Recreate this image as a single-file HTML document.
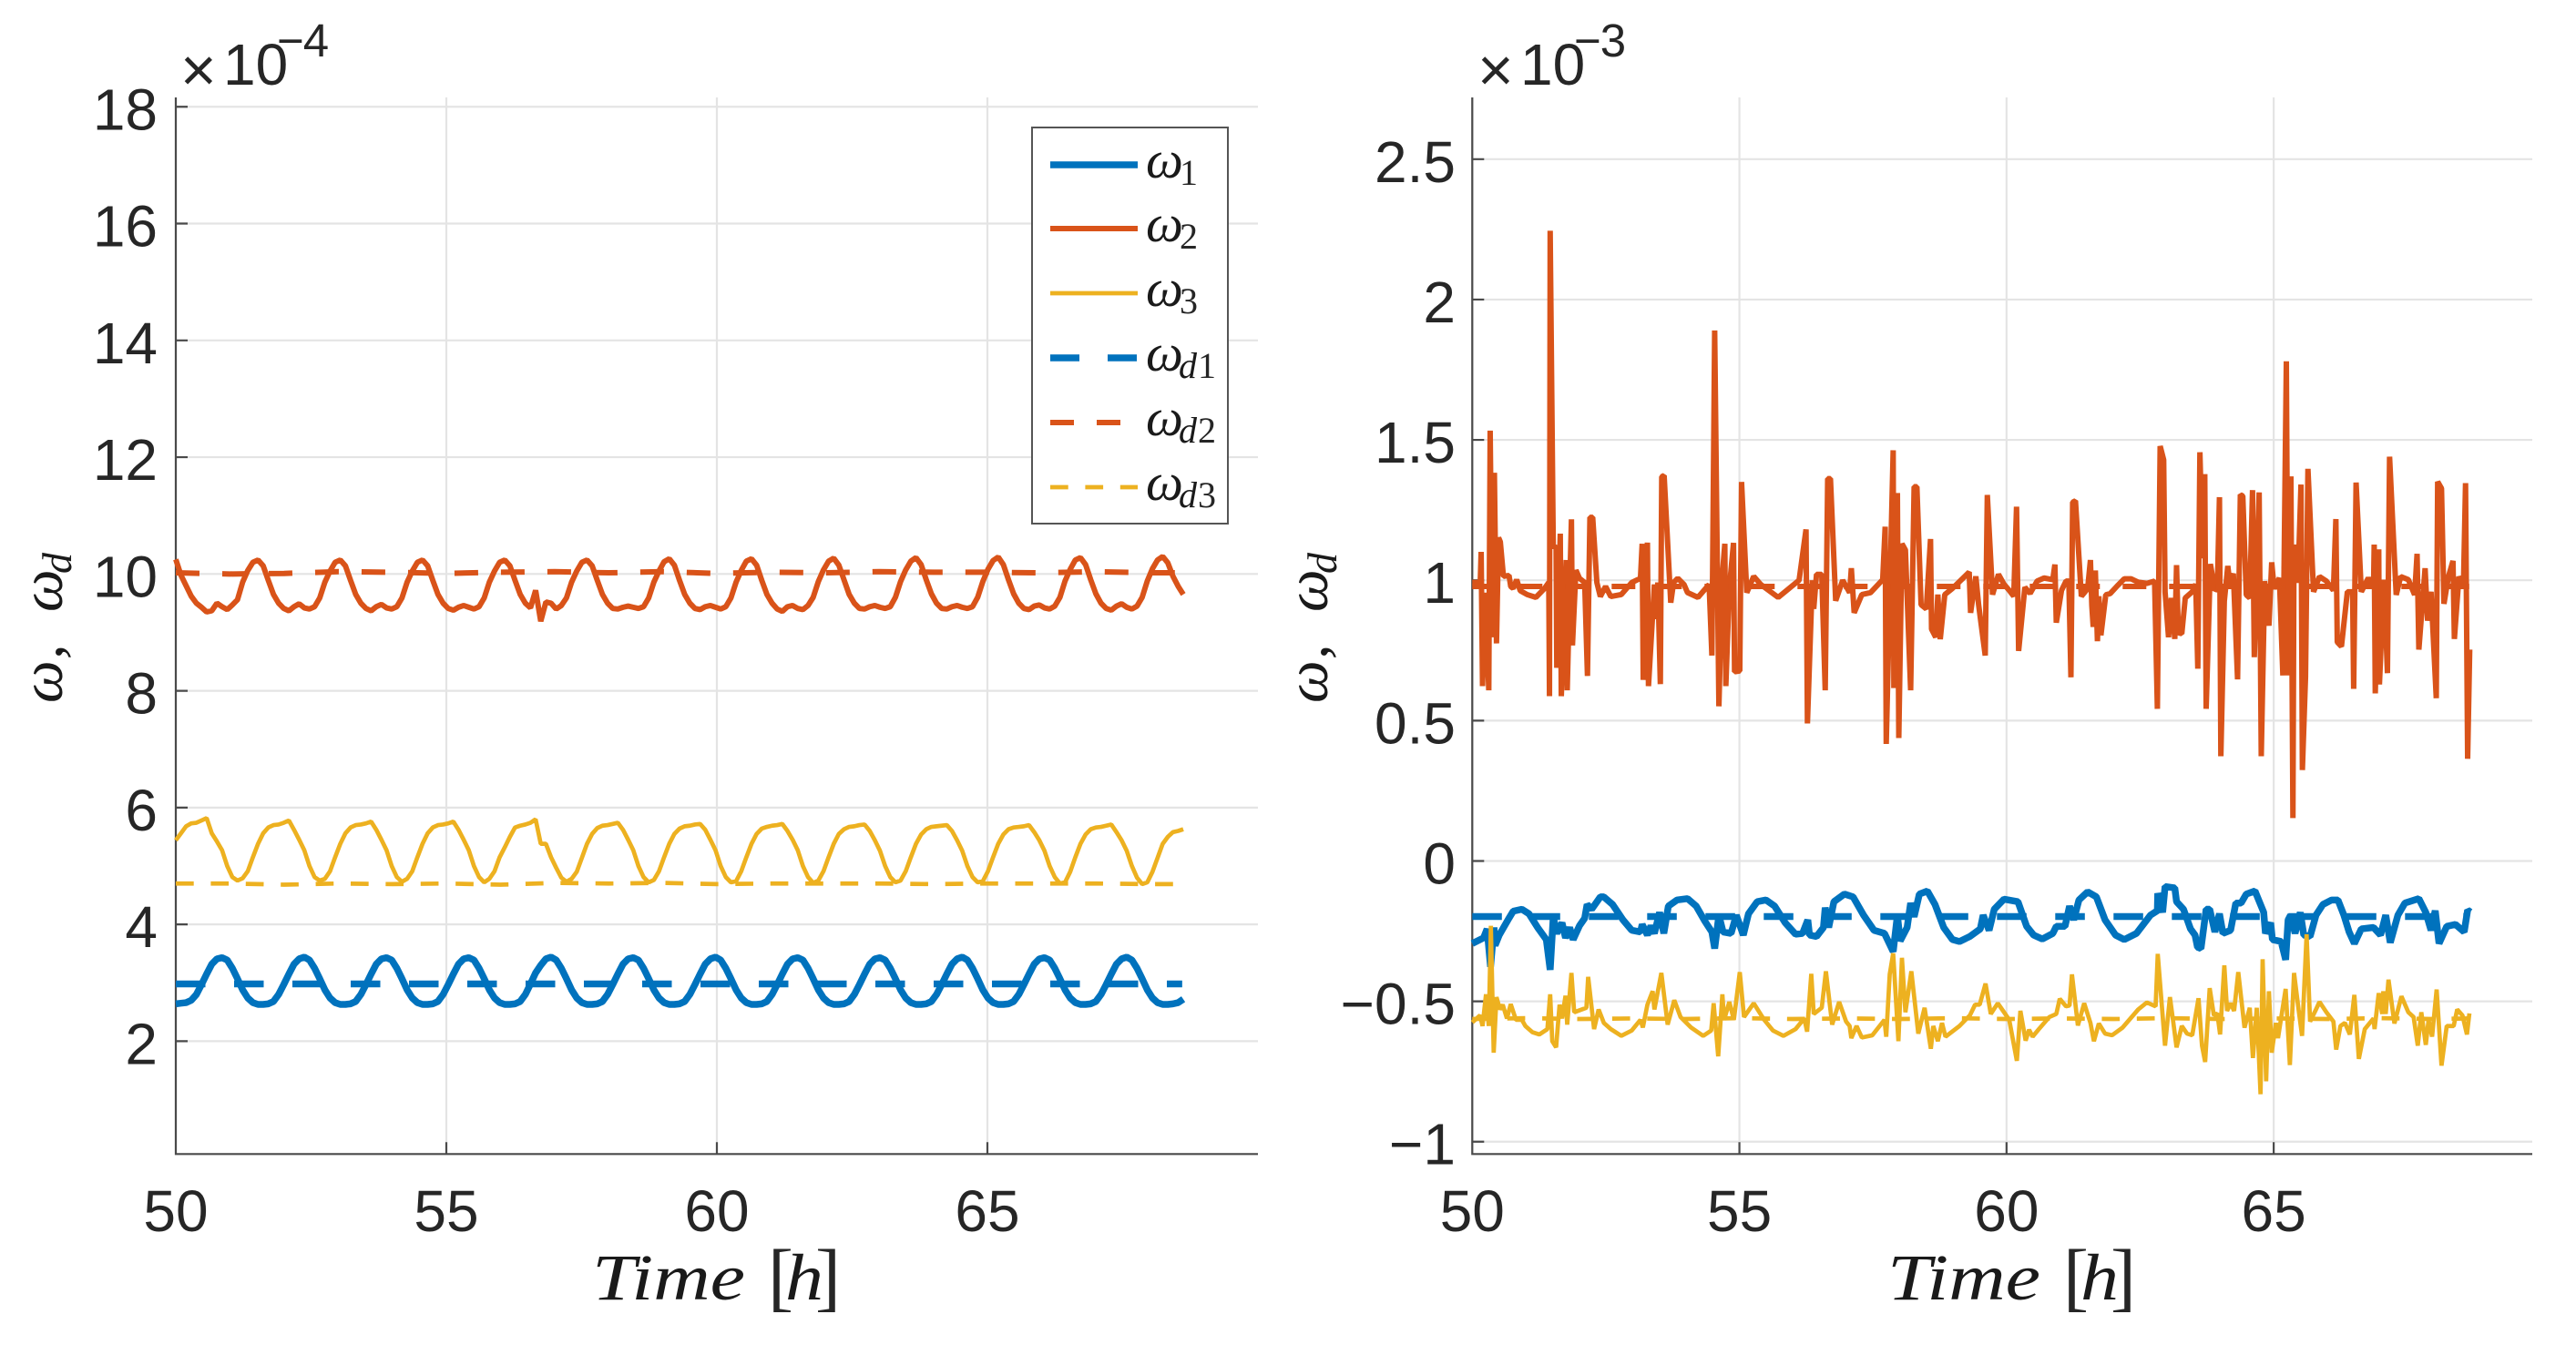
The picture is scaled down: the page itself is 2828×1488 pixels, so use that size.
<!DOCTYPE html>
<html lang="en">
<head>
<meta charset="utf-8">
<title>Angular velocity tracking charts</title>
<style>
html,body{margin:0;padding:0;background:#fff;width:2828px;height:1488px;overflow:hidden}
svg{display:block}
.tick{font-family:"Liberation Sans",sans-serif;font-size:64px;fill:#262626}
.math{font-family:"Liberation Serif",serif;font-style:italic;fill:#1a1a1a}
.up{font-family:"Liberation Serif",serif;fill:#262626}
.exp{font-family:"Liberation Sans",sans-serif;fill:#262626}
</style>
</head>
<body>
<svg id="figure" xmlns="http://www.w3.org/2000/svg" width="2828" height="1488" viewBox="0 0 2828 1488">
<rect x="0" y="0" width="2828" height="1488" fill="#fff"/>
<g id="left-plot"></g>
<g id="right-plot"></g>

<g>
<text class="exp" x="198" y="100" font-size="68">×</text>
<text class="exp" x="245" y="93" font-size="64">10</text>
<text class="exp" x="304" y="62" font-size="51" letter-spacing="-1">−4</text>
</g>
<g>
<text class="exp" x="1622" y="100" font-size="68">×</text>
<text class="exp" x="1669" y="93" font-size="64">10</text>
<text class="exp" x="1728" y="62" font-size="51" letter-spacing="-1">−3</text>
</g>

<g>
<text class="math" x="650" y="1427" font-size="72" textLength="168" lengthAdjust="spacingAndGlyphs">Time</text>
<text class="up" x="843" y="1430" font-size="84">[</text>
<text class="math" x="862" y="1427" font-size="72" textLength="42" lengthAdjust="spacingAndGlyphs">h</text>
<text class="up" x="895" y="1430" font-size="84">]</text>
</g>
<g>
<text class="math" x="2072" y="1427" font-size="72" textLength="168" lengthAdjust="spacingAndGlyphs">Time</text>
<text class="up" x="2265" y="1430" font-size="84">[</text>
<text class="math" x="2284" y="1427" font-size="72" textLength="42" lengthAdjust="spacingAndGlyphs">h</text>
<text class="up" x="2317" y="1430" font-size="84">]</text>
</g>

<g transform="translate(68,772) rotate(-90)">
<text class="math" x="0" y="0" font-size="66">ω</text>
<text class="math" x="48" y="0" font-size="66">,</text>
<text class="math" x="100" y="0" font-size="66">ω</text>
<text class="math" x="142" y="10" font-size="46">d</text>
</g>
<g transform="translate(1457,772) rotate(-90)">
<text class="math" x="0" y="0" font-size="66">ω</text>
<text class="math" x="48" y="0" font-size="66">,</text>
<text class="math" x="100" y="0" font-size="66">ω</text>
<text class="math" x="142" y="10" font-size="46">d</text>
</g>

<g>
<rect x="1133" y="140" width="215" height="435" fill="#fff" stroke="#555" stroke-width="2"/>
<g>
<line x1="1153" x2="1249" y1="181" y2="181" stroke="#0072BD" stroke-width="7.5"/>
<text class="math" x="1258" y="195" font-size="58">ω</text>
<text class="up" x="1295" y="203" font-size="40">1</text>
</g>
<g>
<line x1="1153" x2="1249" y1="251" y2="251" stroke="#D95319" stroke-width="6"/>
<text class="math" x="1258" y="265" font-size="58">ω</text>
<text class="up" x="1295" y="273" font-size="40">2</text>
</g>
<g>
<line x1="1153" x2="1249" y1="322" y2="322" stroke="#EDB120" stroke-width="4.7"/>
<text class="math" x="1258" y="336" font-size="58">ω</text>
<text class="up" x="1295" y="344" font-size="40">3</text>
</g>
<g>
<line x1="1153" x2="1249" y1="393" y2="393" stroke="#0072BD" stroke-width="7.5" stroke-dasharray="32 31"/>
<text class="math" x="1258" y="407" font-size="58">ω</text>
<text class="math" x="1294" y="415" font-size="40">d</text>
<text class="up" x="1315" y="415" font-size="40">1</text>
</g>
<g>
<line x1="1153" x2="1249" y1="464" y2="464" stroke="#D95319" stroke-width="6" stroke-dasharray="26 25"/>
<text class="math" x="1258" y="478" font-size="58">ω</text>
<text class="math" x="1294" y="486" font-size="40">d</text>
<text class="up" x="1315" y="486" font-size="40">2</text>
</g>
<g>
<line x1="1153" x2="1249" y1="535" y2="535" stroke="#EDB120" stroke-width="4.7" stroke-dasharray="19.7 18.7"/>
<text class="math" x="1258" y="549" font-size="58">ω</text>
<text class="math" x="1294" y="557" font-size="40">d</text>
<text class="up" x="1315" y="557" font-size="40">3</text>
</g>
</g>
</svg>

<script>
var xTicksLeft = [50, 55, 60, 65];
var yTicksLeft = [2, 4, 6, 8, 10, 12, 14, 16, 18];
var yTickLabelsLeft = ["2", "4", "6", "8", "10", "12", "14", "16", "18"];
var xTicksRight = [50, 55, 60, 65];
var yTicksRight = [-1, -0.5, 0, 0.5, 1, 1.5, 2, 2.5];
var yTickLabelsRight = ["−1", "−0.5", "0", "0.5", "1", "1.5", "2", "2.5"];

var leftTime = [
50,50.095,50.19,50.285,50.38,50.475,50.57,50.665,50.76,50.855,50.95,51.045,51.14,51.235,51.33,51.425,
51.52,51.615,51.71,51.805,51.9,51.995,52.09,52.185,52.28,52.375,52.47,52.565,52.66,52.755,52.85,52.945,
53.04,53.135,53.23,53.325,53.42,53.515,53.61,53.705,53.8,53.895,53.99,54.085,54.18,54.275,54.37,54.465,
54.56,54.655,54.75,54.845,54.94,55.035,55.13,55.225,55.32,55.415,55.51,55.605,55.7,55.795,55.89,55.985,
56.08,56.175,56.27,56.365,56.46,56.555,56.65,56.745,56.84,56.935,57.03,57.125,57.22,57.315,57.41,57.505,
57.6,57.695,57.79,57.885,57.98,58.075,58.17,58.265,58.36,58.455,58.55,58.645,58.74,58.835,58.93,59.025,
59.12,59.215,59.31,59.405,59.5,59.595,59.69,59.785,59.88,59.975,60.07,60.165,60.26,60.355,60.45,60.545,
60.64,60.735,60.83,60.925,61.02,61.115,61.21,61.305,61.4,61.495,61.59,61.685,61.78,61.875,61.97,62.065,
62.16,62.255,62.35,62.445,62.54,62.635,62.73,62.825,62.92,63.015,63.11,63.205,63.3,63.395,63.49,63.585,
63.68,63.775,63.87,63.965,64.06,64.155,64.25,64.345,64.44,64.535,64.63,64.725,64.82,64.915,65.01,65.105,
65.2,65.295,65.39,65.485,65.58,65.675,65.77,65.865,65.96,66.055,66.15,66.245,66.34,66.435,66.53,66.625,
66.72,66.815,66.91,67.005,67.1,67.195,67.29,67.385,67.48,67.575,67.67,67.765,67.86,67.955,68.05,68.145,
68.24,68.335,68.43,68.525,68.62];

var leftOmega1 = [
2.64,2.65,2.66,2.70,2.80,2.97,3.15,3.32,3.41,3.43,3.39,3.25,3.07,2.88,2.74,2.66,
2.63,2.63,2.64,2.68,2.80,2.97,3.15,3.32,3.41,3.44,3.39,3.25,3.07,2.88,2.74,2.66,
2.63,2.63,2.64,2.68,2.80,2.97,3.15,3.32,3.41,3.43,3.39,3.25,3.07,2.88,2.74,2.66,
2.63,2.63,2.64,2.68,2.80,2.97,3.15,3.32,3.41,3.43,3.39,3.25,3.07,2.88,2.74,2.66,
2.63,2.63,2.64,2.68,2.80,2.98,3.17,3.30,3.41,3.44,3.39,3.25,3.07,2.88,2.74,2.66,
2.63,2.63,2.64,2.68,2.80,2.97,3.15,3.32,3.41,3.43,3.39,3.25,3.07,2.88,2.74,2.66,
2.63,2.63,2.64,2.68,2.80,2.97,3.15,3.32,3.41,3.44,3.39,3.25,3.07,2.88,2.74,2.66,
2.63,2.63,2.64,2.68,2.80,2.97,3.15,3.32,3.41,3.43,3.39,3.25,3.07,2.88,2.74,2.66,
2.63,2.63,2.64,2.68,2.80,2.97,3.15,3.32,3.41,3.43,3.39,3.25,3.07,2.88,2.74,2.66,
2.63,2.63,2.64,2.68,2.80,2.97,3.15,3.32,3.41,3.44,3.39,3.25,3.07,2.88,2.74,2.66,
2.63,2.63,2.64,2.68,2.80,2.97,3.15,3.32,3.41,3.43,3.39,3.25,3.07,2.88,2.74,2.66,
2.63,2.63,2.64,2.68,2.80,2.97,3.15,3.32,3.41,3.44,3.39,3.25,3.07,2.88,2.74,2.66,
2.63,2.63,2.64,2.66,2.72];

var leftOmega2 = [
10.25,9.98,9.80,9.62,9.50,9.43,9.35,9.37,9.50,9.44,9.39,9.47,9.56,9.86,10.06,10.20,
10.24,10.14,9.89,9.65,9.50,9.41,9.37,9.44,9.49,9.42,9.40,9.44,9.59,9.86,10.05,10.20,
10.24,10.14,9.89,9.65,9.50,9.41,9.37,9.44,9.48,9.42,9.40,9.44,9.59,9.86,10.05,10.20,
10.24,10.14,9.89,9.65,9.50,9.41,9.38,9.43,9.46,9.43,9.40,9.44,9.59,9.86,10.05,10.20,
10.24,10.14,9.89,9.65,9.50,9.42,9.72,9.19,9.52,9.50,9.40,9.46,9.59,9.86,10.05,10.20,
10.24,10.14,9.89,9.65,9.50,9.41,9.40,9.43,9.45,9.43,9.41,9.44,9.59,9.86,10.05,10.21,
10.26,10.15,9.89,9.65,9.50,9.41,9.39,9.44,9.46,9.43,9.40,9.44,9.59,9.86,10.06,10.22,
10.26,10.15,9.89,9.65,9.50,9.40,9.36,9.44,9.46,9.41,9.39,9.46,9.60,9.87,10.07,10.22,
10.27,10.15,9.90,9.65,9.50,9.41,9.40,9.44,9.46,9.43,9.41,9.44,9.60,9.87,10.07,10.22,
10.28,10.16,9.90,9.66,9.50,9.41,9.40,9.44,9.46,9.43,9.41,9.44,9.60,9.87,10.08,10.23,
10.29,10.16,9.90,9.66,9.50,9.41,9.39,9.45,9.47,9.42,9.40,9.45,9.60,9.88,10.08,10.24,
10.28,10.16,9.90,9.66,9.50,9.41,9.38,9.45,9.49,9.43,9.40,9.45,9.60,9.88,10.09,10.24,
10.30,10.19,9.96,9.79,9.65];

var leftOmega3 = [
5.44,5.56,5.68,5.73,5.74,5.78,5.82,5.56,5.42,5.27,5.00,4.81,4.75,4.79,4.91,5.15,
5.38,5.56,5.66,5.70,5.71,5.74,5.78,5.62,5.45,5.27,5.00,4.81,4.75,4.78,4.91,5.15,
5.38,5.56,5.66,5.70,5.71,5.73,5.76,5.62,5.45,5.27,5.00,4.81,4.73,4.78,4.91,5.15,
5.38,5.56,5.66,5.70,5.71,5.73,5.76,5.62,5.45,5.27,5.00,4.81,4.72,4.78,4.91,5.15,
5.32,5.50,5.66,5.69,5.71,5.74,5.80,5.38,5.38,5.15,4.97,4.80,4.73,4.78,4.90,5.14,
5.38,5.55,5.65,5.69,5.70,5.72,5.74,5.62,5.45,5.27,5.00,4.81,4.72,4.76,4.91,5.15,
5.38,5.55,5.64,5.68,5.69,5.71,5.72,5.62,5.45,5.27,5.00,4.81,4.72,4.74,4.91,5.15,
5.38,5.55,5.64,5.67,5.69,5.70,5.72,5.60,5.45,5.27,5.00,4.81,4.71,4.75,4.91,5.15,
5.38,5.55,5.63,5.67,5.68,5.70,5.71,5.60,5.44,5.26,5.00,4.81,4.72,4.75,4.91,5.15,
5.38,5.54,5.63,5.67,5.68,5.69,5.70,5.60,5.44,5.26,5.00,4.81,4.72,4.74,4.91,5.15,
5.38,5.54,5.63,5.66,5.67,5.68,5.70,5.58,5.44,5.26,5.00,4.81,4.70,4.72,4.90,5.15,
5.38,5.54,5.63,5.66,5.67,5.69,5.71,5.58,5.44,5.26,5.00,4.80,4.69,4.72,4.90,5.14,
5.38,5.50,5.58,5.60,5.63];

var leftTargetTime = [50,51,52,53,54,55,56,57,58,59,60,61,62,63,64,65,66,67,68,68.6];
var leftTarget1 = [2.98,2.98,2.98,2.98,2.98,2.98,2.98,2.98,2.98,2.98,2.98,2.98,2.98,2.98,2.98,2.98,2.98,2.98,2.98,2.98];
var leftTarget2 = [10.02,10.00,10.01,10.04,10.03,10.01,10.03,10.04,10.02,10.04,10.01,10.03,10.02,10.04,10.03,10.03,10.02,10.04,10.02,10.02];
var leftTarget3 = [4.70,4.70,4.68,4.70,4.69,4.70,4.68,4.71,4.70,4.71,4.69,4.70,4.70,4.70,4.69,4.70,4.70,4.70,4.69,4.69];

var rightOmega1Time = [
50,50.211,50.277,50.342,50.407,50.427,50.505,50.668,50.766,50.929,51.06,51.223,51.386,51.458,51.516,51.582,51.68,51.745,51.823,51.888,
52.006,52.104,52.149,52.234,52.397,52.462,52.626,52.821,52.985,53.148,53.18,53.278,53.343,53.409,53.506,53.585,53.67,53.833,54.029,54.192,
54.355,54.485,54.537,54.616,54.694,54.844,54.942,55.073,55.17,55.333,55.497,55.66,55.856,56.051,56.182,56.28,56.312,56.443,56.573,56.606,
56.671,56.769,56.965,57.128,57.324,57.519,57.715,57.878,57.957,58.009,58.139,58.205,58.27,58.368,58.518,58.661,58.824,58.988,59.118,59.314,
59.509,59.562,59.673,59.77,59.953,60.213,60.376,60.507,60.67,60.866,60.931,61.094,61.179,61.257,61.355,61.518,61.681,61.844,62.04,62.203,
62.432,62.693,62.823,62.83,62.921,62.967,63.149,63.182,63.312,63.443,63.528,63.574,63.639,63.736,63.802,63.9,63.985,64.05,64.193,64.291,
64.389,64.487,64.65,64.813,64.846,64.943,64.976,65.139,65.224,65.27,65.316,65.4,65.498,65.563,65.681,65.792,65.922,66.085,66.203,66.314,
66.412,66.51,66.64,66.869,67,67.097,67.182,67.325,67.456,67.717,67.847,67.945,68.023,68.095,68.239,68.402,68.565,68.63,68.682];
var rightOmega1 = [
-0.294,-0.274,-0.242,-0.377,-0.237,-0.301,-0.264,-0.21,-0.179,-0.172,-0.188,-0.237,-0.28,-0.388,-0.199,-0.258,-0.22,-0.274,-0.237,-0.28,
-0.231,-0.204,-0.155,-0.172,-0.128,-0.128,-0.155,-0.21,-0.247,-0.253,-0.226,-0.264,-0.231,-0.258,-0.183,-0.258,-0.161,-0.139,-0.134,-0.161,
-0.215,-0.253,-0.312,-0.193,-0.253,-0.258,-0.193,-0.264,-0.188,-0.145,-0.139,-0.161,-0.22,-0.261,-0.258,-0.21,-0.264,-0.269,-0.237,-0.166,
-0.237,-0.145,-0.118,-0.128,-0.193,-0.247,-0.258,-0.323,-0.193,-0.285,-0.237,-0.15,-0.199,-0.118,-0.107,-0.155,-0.237,-0.28,-0.287,-0.269,
-0.242,-0.193,-0.247,-0.172,-0.136,-0.145,-0.233,-0.264,-0.278,-0.258,-0.233,-0.233,-0.161,-0.21,-0.139,-0.11,-0.128,-0.21,-0.264,-0.28,
-0.258,-0.193,-0.177,-0.115,-0.183,-0.091,-0.096,-0.145,-0.172,-0.242,-0.264,-0.307,-0.312,-0.172,-0.172,-0.253,-0.188,-0.258,-0.247,-0.15,
-0.15,-0.118,-0.107,-0.183,-0.258,-0.22,-0.28,-0.287,-0.352,-0.21,-0.193,-0.258,-0.183,-0.264,-0.269,-0.193,-0.155,-0.139,-0.139,-0.193,
-0.253,-0.294,-0.242,-0.237,-0.264,-0.193,-0.291,-0.193,-0.15,-0.134,-0.183,-0.247,-0.177,-0.294,-0.233,-0.226,-0.253,-0.175,-0.182];

var rightOmega2Time = [
50,50.114,50.146,50.166,50.192,50.244,50.309,50.335,50.375,50.414,50.453,50.492,50.525,50.583,50.688,50.72,50.766,50.831,50.897,51.027,
51.19,51.353,51.432,51.445,51.458,51.516,51.569,51.582,51.647,51.666,51.758,51.777,51.856,51.875,51.94,52.006,52.104,52.156,52.202,52.254,
52.332,52.397,52.495,52.593,52.789,52.985,53.148,53.18,53.2,53.278,53.298,53.409,53.422,53.474,53.52,53.546,53.591,53.715,53.768,53.846,
53.963,54.029,54.224,54.433,54.485,54.537,54.616,54.681,54.727,54.746,54.811,54.89,54.909,55.007,55.04,55.138,55.268,55.399,55.725,56.117,
56.247,56.273,56.364,56.391,56.443,56.541,56.606,56.652,56.704,56.802,56.933,57.063,57.095,57.148,57.291,57.454,57.682,57.728,57.748,57.878,
57.891,57.957,57.983,58.042,58.107,58.205,58.27,58.322,58.4,58.498,58.577,58.596,58.674,58.714,58.759,58.844,58.988,59.183,59.301,59.327,
59.425,59.477,59.601,59.64,59.738,59.849,59.952,60.05,60.135,60.187,60.226,60.343,60.441,60.572,60.702,60.865,60.905,60.931,61.029,61.113,
61.166,61.205,61.237,61.29,61.4,61.518,61.57,61.596,61.622,61.662,61.701,61.727,61.766,61.857,61.942,62.073,62.203,62.334,62.464,62.627,
62.771,62.823,62.875,62.941,62.967,63.032,63.084,63.149,63.182,63.215,63.28,63.345,63.475,63.541,63.58,63.619,63.671,63.71,63.736,63.815,
63.9,63.945,63.985,64.011,64.076,64.141,64.18,64.245,64.324,64.376,64.422,64.487,64.552,64.604,64.637,64.728,64.767,64.832,64.911,64.963,
65.009,65.107,65.172,65.237,65.27,65.322,65.36,65.38,65.453,65.511,65.537,65.596,65.641,65.746,65.857,65.987,66.118,66.164,66.19,66.268,
66.379,66.477,66.497,66.542,66.64,66.771,66.869,66.881,66.901,66.966,66.979,67.064,67.129,67.169,67.293,67.377,67.521,67.638,67.684,67.717,
67.834,67.88,67.945,68.043,68.069,68.141,68.187,68.271,68.356,68.382,68.467,68.552,68.591,68.63,68.669];
var rightOmega2 = [
0.992,0.992,0.971,1.101,0.623,0.956,0.608,1.533,0.797,1.383,0.775,1.152,1.137,1.014,1.017,0.978,0.971,1.002,0.963,0.949,
0.939,0.971,0.992,0.587,2.245,1.115,1.123,0.688,1.166,0.587,1.072,0.608,1.217,0.768,1.036,1.007,0.992,0.659,1.224,1.224,
0.992,0.942,0.978,0.942,0.949,0.992,1.007,1.13,0.645,1.134,0.623,0.985,0.862,0.992,0.63,1.369,1.373,0.92,0.992,1.007,
0.985,0.956,0.939,0.985,0.732,1.89,0.551,1.021,1.13,0.623,0.971,1.133,0.674,0.677,1.35,0.956,1.014,0.985,0.939,1,
1.181,0.49,1,0.898,1.021,1.021,0.608,1.362,1.362,0.927,1,0.956,1.043,0.884,0.949,0.956,1.002,1.191,0.417,1.463,
0.616,1.311,0.438,1.13,1.108,0.608,1.333,1.333,0.913,0.898,1.147,0.826,0.797,0.949,0.79,0.949,0.971,1.007,1.029,0.884,
1.014,0.913,0.732,1.304,0.949,1.021,0.986,0.964,0.943,1.262,0.748,0.975,0.953,0.997,1.008,1.002,1.056,0.849,0.964,0.997,
0.997,0.654,1.278,1.283,0.943,0.97,1.072,0.91,0.834,1.035,0.783,0.943,0.804,0.948,0.953,0.98,1.005,1.005,0.993,0.989,
0.997,0.542,1.478,1.429,0.959,0.797,0.937,0.791,1.054,0.813,0.81,0.937,0.959,0.986,0.685,1.456,1.078,1.378,0.542,1.058,
0.964,0.97,1.296,0.373,0.926,1.051,0.986,1.024,0.647,1.305,1.3,0.948,0.937,1.321,0.726,1.313,0.373,0.997,0.838,1.064,
0.97,1.008,0.661,1.78,0.661,1.37,0.153,1.127,0.991,1.341,0.324,0.656,1.397,0.959,1.013,0.997,0.964,1.218,0.78,0.764,
0.959,0.959,0.613,1.348,0.959,1.008,0.975,1.127,0.597,1.11,0.629,1.002,0.669,1.44,0.948,1.013,1.002,0.948,1.094,0.753,
1.043,0.856,0.959,0.58,1.351,1.327,0.916,1.013,1.069,0.791,1.013,0.98,1.346,0.364,0.753];

var rightOmega3Time = [
50,50.146,50.192,50.257,50.309,50.348,50.401,50.453,50.518,50.57,50.649,50.72,50.818,50.929,50.994,51.125,51.255,51.406,51.458,51.497,
51.569,51.634,51.68,51.745,51.777,51.856,51.908,52.136,52.169,52.28,52.365,52.463,52.593,52.789,52.985,53.148,53.193,53.278,53.376,53.409,
53.539,53.657,53.781,53.898,54.094,54.322,54.472,54.518,54.603,54.681,54.714,54.811,54.896,55.007,55.086,55.268,55.464,55.627,55.823,56.051,
56.214,56.267,56.345,56.391,56.541,56.619,56.736,56.867,56.997,57.063,57.095,57.193,57.291,57.487,57.715,57.748,57.813,57.878,57.976,58.042,
58.107,58.218,58.348,58.466,58.583,58.629,58.714,58.792,58.857,59.118,59.314,59.411,59.497,59.607,59.705,59.836,59.953,60.05,60.193,60.259,
60.357,60.422,60.487,60.605,60.8,60.931,60.996,61.113,61.179,61.224,61.335,61.453,61.57,61.635,61.727,61.844,61.975,62.17,62.464,62.627,
62.79,62.83,62.966,63.058,63.13,63.182,63.28,63.378,63.476,63.593,63.658,63.717,63.802,63.88,63.945,63.997,64.076,64.128,64.193,64.259,
64.337,64.454,64.552,64.611,64.683,64.754,64.793,64.859,64.911,64.963,65.041,65.081,65.224,65.303,65.381,65.466,65.531,65.616,65.681,65.792,
65.857,65.987,66.118,66.17,66.249,66.333,66.425,66.51,66.594,66.705,66.869,66.888,66.966,67.032,67.052,67.097,67.149,67.26,67.391,67.521,
67.619,67.697,67.763,67.847,67.899,67.965,68.05,68.141,68.239,68.369,68.435,68.533,68.617,68.663];
var rightOmega3 = [
-0.575,-0.55,-0.588,-0.475,-0.588,-0.231,-0.683,-0.485,-0.529,-0.512,-0.561,-0.51,-0.566,-0.566,-0.588,-0.61,-0.618,-0.599,-0.475,-0.642,
-0.664,-0.512,-0.561,-0.48,-0.583,-0.399,-0.539,-0.523,-0.413,-0.599,-0.529,-0.577,-0.599,-0.623,-0.604,-0.566,-0.593,-0.512,-0.464,-0.529,
-0.399,-0.583,-0.496,-0.556,-0.593,-0.623,-0.604,-0.507,-0.696,-0.475,-0.566,-0.502,-0.566,-0.396,-0.556,-0.507,-0.566,-0.604,-0.623,-0.599,
-0.561,-0.608,-0.402,-0.545,-0.523,-0.393,-0.583,-0.502,-0.572,-0.588,-0.631,-0.588,-0.629,-0.621,-0.566,-0.626,-0.404,-0.329,-0.642,-0.345,
-0.539,-0.393,-0.615,-0.523,-0.669,-0.588,-0.642,-0.577,-0.626,-0.588,-0.55,-0.512,-0.512,-0.437,-0.545,-0.507,-0.539,-0.566,-0.712,-0.534,
-0.64,-0.601,-0.626,-0.599,-0.556,-0.545,-0.491,-0.518,-0.515,-0.404,-0.586,-0.507,-0.577,-0.642,-0.579,-0.615,-0.621,-0.594,-0.529,-0.504,
-0.518,-0.331,-0.658,-0.485,-0.588,-0.664,-0.588,-0.615,-0.621,-0.489,-0.658,-0.716,-0.453,-0.55,-0.543,-0.618,-0.372,-0.534,-0.507,-0.534,
-0.396,-0.594,-0.523,-0.702,-0.523,-0.831,-0.35,-0.785,-0.464,-0.683,-0.577,-0.631,-0.456,-0.727,-0.399,-0.529,-0.623,-0.261,-0.572,-0.529,
-0.502,-0.539,-0.572,-0.672,-0.588,-0.577,-0.618,-0.477,-0.705,-0.599,-0.561,-0.599,-0.471,-0.545,-0.464,-0.545,-0.423,-0.579,-0.482,-0.539,
-0.556,-0.658,-0.539,-0.655,-0.566,-0.626,-0.458,-0.729,-0.588,-0.588,-0.529,-0.55,-0.618,-0.543];

var rightTargetTime = [50,51,52,53,54,55,56,57,58,59,60,61,62,63,64,65,66,67,68,68.66];
var rightTarget1 = [-0.198,-0.198,-0.198,-0.198,-0.198,-0.198,-0.198,-0.198,-0.198,-0.198,-0.198,-0.198,-0.198,-0.198,-0.198,-0.198,-0.198,-0.198,-0.198,-0.198];
var rightTarget2 = [0.978,0.978,0.978,0.978,0.978,0.978,0.978,0.978,0.978,0.978,0.978,0.978,0.978,0.978,0.978,0.978,0.978,0.978,0.978,0.978];
var rightTarget3 = [-0.563,-0.56,-0.563,-0.561,-0.563,-0.56,-0.563,-0.561,-0.563,-0.56,-0.563,-0.561,-0.563,-0.56,-0.563,-0.561,-0.563,-0.56,-0.563,-0.561];

var SVG_NS = 'http://www.w3.org/2000/svg';
var BLUE = '#0072BD', ORANGE = '#D95319', YELLOW = '#EDB120';

function makeAxes(left, right, top, bottom, xMin, xMax, yMin, yMax) {
  return {
    left: left, right: right, top: top, bottom: bottom,
    x: function (t) { return left + (t - xMin) / (xMax - xMin) * (right - left); },
    y: function (v) { return bottom - (v - yMin) / (yMax - yMin) * (bottom - top); }
  };
}

function shape(tag, parent) {
  var el = document.createElementNS(SVG_NS, tag);
  parent.appendChild(el);
  return el;
}

function drawFrame(group, ax, xTicks, yTicks, yLabels, labelRight) {
  var i, el, px;
  for (i = 0; i < yTicks.length; i++) {
    px = ax.y(yTicks[i]);
    el = shape('line', group);
    
    
    el.setAttribute('x1', ax.left); el.setAttribute('x2', ax.right);
    el.setAttribute('y1', px); el.setAttribute('y2', px);
    el.setAttribute('stroke', '#e4e4e4'); el.setAttribute('stroke-width', '2.2');
  }
  for (i = 0; i < xTicks.length; i++) {
    px = ax.x(xTicks[i]);
    el = shape('line', group);
    
    
    el.setAttribute('x1', px); el.setAttribute('x2', px);
    el.setAttribute('y1', ax.top); el.setAttribute('y2', ax.bottom);
    el.setAttribute('stroke', '#e4e4e4'); el.setAttribute('stroke-width', '2.2');
  }
  var axisPath = 'M' + ax.left + ' ' + ax.top + 'V' + ax.bottom + 'H' + ax.right;
  for (i = 0; i < yTicks.length; i++) {
    axisPath += 'M' + ax.left + ' ' + ax.y(yTicks[i]) + 'h13';
  }
  for (i = 0; i < xTicks.length; i++) {
    axisPath += 'M' + ax.x(xTicks[i]) + ' ' + ax.bottom + 'v-13';
  }
  el = shape('path', group);
  
  
  el.setAttribute('d', axisPath);
  el.setAttribute('fill', 'none');
  el.setAttribute('stroke', '#4a4a4a');
  el.setAttribute('stroke-width', '2.2');
  for (i = 0; i < yTicks.length; i++) {
    el = shape('text', group);
    
    
    el.setAttribute('class', 'tick');
    el.setAttribute('x', labelRight);
    el.setAttribute('y', ax.y(yTicks[i]) + 25);
    el.setAttribute('text-anchor', 'end');
    el.textContent = yLabels[i];
  }
  for (i = 0; i < xTicks.length; i++) {
    el = shape('text', group);
    
    
    el.setAttribute('class', 'tick');
    el.setAttribute('x', ax.x(xTicks[i]));
    el.setAttribute('y', 1352);
    el.setAttribute('text-anchor', 'middle');
    el.textContent = String(xTicks[i]);
  }
}

function drawSeries(group, ax, times, values, color, width, dash, name) {
  var pts = [];
  for (var i = 0; i < times.length; i++) {
    pts.push(ax.x(times[i]).toFixed(2) + ',' + ax.y(values[i]).toFixed(2));
  }
  var el = shape('polyline', group);
  
  
  el.setAttribute('points', pts.join(' '));
  el.setAttribute('fill', 'none');
  el.setAttribute('stroke', color);
  el.setAttribute('stroke-width', width);
  el.setAttribute('stroke-linejoin', 'bevel');
  if (dash) { el.setAttribute('stroke-dasharray', dash); }
}

var axesLeft = makeAxes(193, 1381, 107, 1267.3, 50, 70, 0.068, 18.16);
var axesRight = makeAxes(1616.3, 2780, 107, 1267.3, 50, 69.84, -1.044, 2.72);
var groupLeft = document.getElementById('left-plot');
var groupRight = document.getElementById('right-plot');

drawFrame(groupLeft, axesLeft, xTicksLeft, yTicksLeft, yTickLabelsLeft, 173);
drawFrame(groupRight, axesRight, xTicksRight, yTicksRight, yTickLabelsRight, 1598);

drawSeries(groupLeft, axesLeft, leftTime, leftOmega1, BLUE, 7.5, '', 'left-omega-1-line');
drawSeries(groupLeft, axesLeft, leftTime, leftOmega2, ORANGE, 6, '', 'left-omega-2-line');
drawSeries(groupLeft, axesLeft, leftTime, leftOmega3, YELLOW, 4.7, '', 'left-omega-3-line');
drawSeries(groupLeft, axesLeft, leftTargetTime, leftTarget1, BLUE, 7.5, '32.5 31.5', 'left-omega-d1-line');
drawSeries(groupLeft, axesLeft, leftTargetTime, leftTarget2, ORANGE, 6, '26 25', 'left-omega-d2-line');
drawSeries(groupLeft, axesLeft, leftTargetTime, leftTarget3, YELLOW, 4.7, '19.7 18.7', 'left-omega-d3-line');

drawSeries(groupRight, axesRight, rightOmega1Time, rightOmega1, BLUE, 7.5, '', 'right-omega-1-line');
drawSeries(groupRight, axesRight, rightOmega2Time, rightOmega2, ORANGE, 6, '', 'right-omega-2-line');
drawSeries(groupRight, axesRight, rightOmega3Time, rightOmega3, YELLOW, 4.7, '', 'right-omega-3-line');
drawSeries(groupRight, axesRight, rightTargetTime, rightTarget1, BLUE, 7.5, '32.5 31.5', 'right-omega-d1-line');
drawSeries(groupRight, axesRight, rightTargetTime, rightTarget2, ORANGE, 6, '26 25', 'right-omega-d2-line');
drawSeries(groupRight, axesRight, rightTargetTime, rightTarget3, YELLOW, 4.7, '19.7 18.7', 'right-omega-d3-line');
</script>
</body>
</html>
